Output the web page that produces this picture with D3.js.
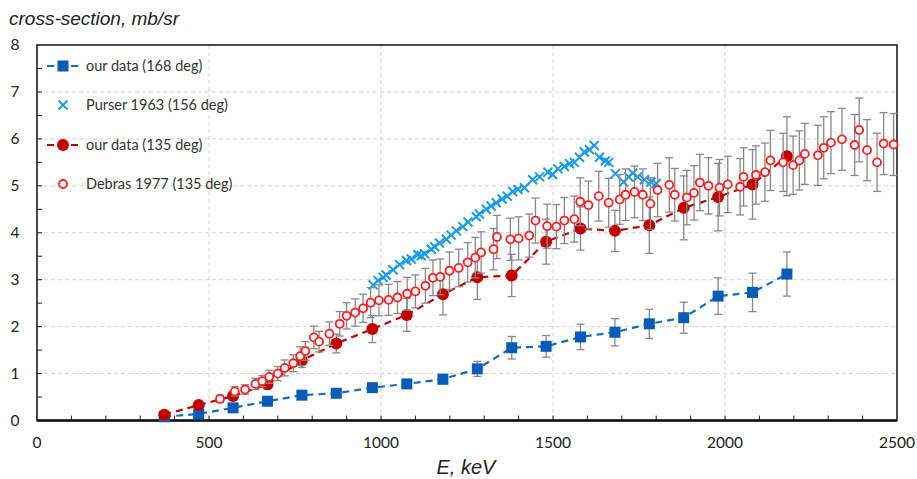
<!DOCTYPE html>
<html>
<head>
<meta charset="utf-8">
<script src="https://cdn.jsdelivr.net/npm/d3@7"></script>
<style>
    body { margin: 0; background: #fff; }
    #main { width: 917px; height: 479px; }
    .tick-label { font-family: Lato, "Open Sans", sans-serif; font-size: 15.5px; fill: #222; }
    .axis-label { font-family: "Liberation Sans", Arial, sans-serif; font-style: italic; fill: #222; }
    .legend-text { font-family: Lato, "Open Sans", sans-serif; font-size: 14.5px; fill: #333; }
</style>
</head>
<body>
<div id="main"></div>
<script>

// our data, 168 deg
const blueE   = [370, 470, 570, 670, 770, 870, 975, 1075, 1180, 1280, 1380, 1480, 1580, 1680, 1780, 1880, 1980, 2080, 2180];
const blueVal = [0.08, 0.14, 0.27, 0.41, 0.54, 0.58, 0.70, 0.78, 0.88, 1.10, 1.55, 1.58, 1.78, 1.88, 2.06, 2.19, 2.65, 2.73, 3.12];
const blueErr = [0.03, 0.03, 0.04, 0.04, 0.05, 0.05, 0.06, 0.06, 0.10, 0.16, 0.24, 0.23, 0.27, 0.29, 0.31, 0.33, 0.39, 0.41, 0.47];

// Purser 1963, 156 deg
const purserE   = [977, 992, 1006, 1015, 1035, 1054, 1074, 1088, 1107, 1117, 1127, 1146, 1156, 1170, 1190, 1204, 1219, 1238, 1253, 1277,
                   1286, 1306, 1320, 1335, 1352, 1367, 1383, 1398, 1417, 1441, 1461, 1485, 1499, 1514, 1533, 1548, 1562, 1577, 1591, 1606,
                   1620, 1635, 1652, 1662, 1681, 1705, 1720, 1732, 1746, 1766, 1785, 1800];
const purserVal = [2.89, 2.98, 3.05, 3.10, 3.21, 3.32, 3.41, 3.44, 3.53, 3.51, 3.55, 3.65, 3.70, 3.78, 3.86, 3.95, 4.04, 4.13, 4.23, 4.34,
                   4.40, 4.50, 4.57, 4.64, 4.72, 4.78, 4.88, 4.92, 4.96, 5.13, 5.19, 5.29, 5.24, 5.36, 5.41, 5.47, 5.50, 5.61, 5.72, 5.77,
                   5.86, 5.61, 5.53, 5.50, 5.26, 5.08, 5.19, 5.27, 5.19, 5.13, 5.08, 5.05];

// our data, 135 deg
const redE   = [370, 470, 570, 670, 770, 870, 975, 1075, 1180, 1280, 1380, 1480, 1580, 1680, 1780, 1880, 1980, 2080, 2180];
const redVal = [0.12, 0.33, 0.52, 0.77, 1.28, 1.64, 1.95, 2.25, 2.69, 3.05, 3.09, 3.81, 4.09, 4.04, 4.16, 4.53, 4.76, 5.03, 5.63];
const redErr = [0.04, 0.06, 0.08, 0.10, 0.15, 0.20, 0.29, 0.35, 0.44, 0.47, 0.45, 0.48, 0.46, 0.44, 0.60, 0.68, 0.72, 0.74, 0.84];

// Debras 1977, 135 deg
const debrasE   = [532, 575, 605, 635, 655, 675, 700, 720, 745, 765, 780, 805, 820, 850, 880, 900, 925, 948, 970, 994,
                   1022, 1048, 1076, 1100, 1129, 1151, 1172, 1199, 1226, 1252, 1274, 1291, 1327, 1337, 1376, 1400, 1431, 1449, 1483, 1510,
                   1533, 1562, 1579, 1603, 1633, 1662, 1694, 1711, 1737, 1761, 1783, 1804, 1838, 1854, 1889, 1910, 1927, 1952, 1984, 2008,
                   2044, 2054, 2090, 2116, 2132, 2169, 2198, 2216, 2232, 2270, 2287, 2308, 2340, 2377, 2390, 2413, 2442, 2461, 2490];
const debrasVal = [0.46, 0.62, 0.66, 0.78, 0.84, 0.93, 1.00, 1.12, 1.22, 1.37, 1.48, 1.77, 1.68, 1.85, 2.06, 2.23, 2.30, 2.39, 2.51, 2.56,
                   2.57, 2.62, 2.70, 2.75, 2.87, 3.04, 3.06, 3.19, 3.25, 3.37, 3.47, 3.58, 3.65, 3.91, 3.86, 3.88, 3.94, 4.26, 4.14, 4.13,
                   4.26, 4.29, 4.66, 4.59, 4.78, 4.64, 4.71, 4.81, 4.87, 4.81, 4.62, 4.91, 5.02, 4.81, 4.75, 4.85, 5.07, 5.00, 4.96, 5.03,
                   4.98, 5.19, 5.23, 5.29, 5.54, 5.50, 5.44, 5.54, 5.68, 5.65, 5.81, 5.92, 5.99, 5.87, 6.19, 5.76, 5.50, 5.90, 5.88];
const debrasErr = [0.08, 0.10, 0.10, 0.12, 0.12, 0.14, 0.15, 0.17, 0.18, 0.20, 0.20, 0.24, 0.22, 0.25, 0.26, 0.28, 0.29, 0.30, 0.32, 0.33,
                   0.33, 0.34, 0.35, 0.35, 0.37, 0.38, 0.38, 0.40, 0.40, 0.42, 0.43, 0.44, 0.44, 0.46, 0.45, 0.46, 0.46, 0.48, 0.47, 0.47,
                   0.49, 0.49, 0.51, 0.51, 0.53, 0.52, 0.53, 0.55, 0.55, 0.55, 0.55, 0.57, 0.58, 0.56, 0.58, 0.58, 0.60, 0.60, 0.60, 0.60,
                   0.60, 0.62, 0.62, 0.62, 0.64, 0.62, 0.62, 0.63, 0.65, 0.64, 0.66, 0.66, 0.66, 0.65, 0.68, 0.65, 0.62, 0.66, 0.66];

const xTicks = [0, 500, 1000, 1500, 2000, 2500];
const yTicks = [0, 1, 2, 3, 4, 5, 6, 7, 8];
const legendLabels = ["our data (168 deg)", "Purser 1963 (156 deg)", "our data (135 deg)", "Debras 1977 (135 deg)"];

const zip = (e, v, err) => e.map((d, i) => ({E: d, v: v[i], err: err ? err[i] : 0}));

class CrossSectionVis{

    constructor(){

        this.margin = {top: 45, right: 20, bottom: 58, left: 37};
        this.width = 917;
        this.height = 479;

        this.svg = d3.select("#main").append("svg")
            .attr("width", this.width)
            .attr("height", this.height);

        this.x = d3.scaleLinear().domain([0, 2500]).range([this.margin.left, this.width - this.margin.right]);
        this.y = d3.scaleLinear().domain([0, 8]).range([this.height - this.margin.bottom - 0.5, this.margin.top]);

        this.update();
    }

    errorBars(data){
        let g = this.svg.append("g");
        let x = this.x, y = this.y;
        data.filter(d => d.err > 0).forEach(d => {
            g.append("line")
                .attr("x1", x(d.E)).attr("x2", x(d.E))
                .attr("y1", y(d.v + d.err)).attr("y2", y(d.v - d.err))
                .attr("stroke", "#888").attr("stroke-width", 1.3);
            [d.v + d.err, d.v - d.err].forEach(v => {
                g.append("line")
                    .attr("x1", x(d.E) - 4).attr("x2", x(d.E) + 4)
                    .attr("y1", y(v)).attr("y2", y(v))
                    .attr("stroke", "#888").attr("stroke-width", 1.3);
            });
        });
    }

    dashedLine(data, color){
        let line = d3.line().x(d => this.x(d.E)).y(d => this.y(d.v));
        this.svg.append("path")
            .datum(data)
            .attr("d", line)
            .attr("fill", "none")
            .attr("stroke", color)
            .attr("stroke-width", 2.2)
            .attr("stroke-dasharray", "7,5");
    }

    square(g, cx, cy){
        g.append("rect")
            .attr("x", cx - 5.5).attr("y", cy - 5.5)
            .attr("width", 11).attr("height", 11)
            .attr("fill", "#0a5bb5");
    }

    cross(g, cx, cy){
        let s = 4.5;
        g.append("path")
            .attr("d", `M${cx - s},${cy - s}L${cx + s},${cy + s}M${cx - s},${cy + s}L${cx + s},${cy - s}`)
            .attr("stroke", "#1b9be3").attr("stroke-width", 2).attr("fill", "none");
    }

    dot(g, cx, cy){
        g.append("circle").attr("cx", cx).attr("cy", cy).attr("r", 6).attr("fill", "#c00000");
    }

    ring(g, cx, cy){
        g.append("circle").attr("cx", cx).attr("cy", cy).attr("r", 4)
            .attr("fill", "#fff").attr("stroke", "#ff1f1f").attr("stroke-width", 1.8);
    }

    update(){

        let x = this.x, y = this.y;
        let left = this.margin.left, right = this.width - this.margin.right;
        let top = this.margin.top, bottom = y(0);

        //grid lines
        let grid = this.svg.append("g");
        yTicks.filter(t => t > 0 && t < 8).forEach(t => {
            grid.append("line")
                .attr("x1", left).attr("x2", right)
                .attr("y1", y(t)).attr("y2", y(t))
                .attr("stroke", "#d4d4d4").attr("stroke-width", 1).attr("stroke-dasharray", "4,3");
        });
        xTicks.filter(t => t > 0 && t < 2500).forEach(t => {
            grid.append("line")
                .attr("x1", x(t)).attr("x2", x(t))
                .attr("y1", top).attr("y2", bottom)
                .attr("stroke", "#d4d4d4").attr("stroke-width", 1).attr("stroke-dasharray", "4,3");
        });

        //minor ticks inside the frame
        let ticks = this.svg.append("g");
        d3.range(100, 2500, 100).forEach(t => {
            ticks.append("line")
                .attr("x1", x(t)).attr("x2", x(t))
                .attr("y1", bottom).attr("y2", bottom - 5)
                .attr("stroke", "#222").attr("stroke-width", 1);
        });
        d3.range(0.5, 8, 0.5).forEach(t => {
            ticks.append("line")
                .attr("x1", left).attr("x2", left + 5)
                .attr("y1", y(t)).attr("y2", y(t))
                .attr("stroke", "#222").attr("stroke-width", 1);
        });

        //frame
        this.svg.append("rect")
            .attr("x", left).attr("y", top)
            .attr("width", right - left).attr("height", bottom - top)
            .attr("fill", "none").attr("stroke", "#111").attr("stroke-width", 1.5);
        this.svg.append("line")
            .attr("x1", left).attr("x2", right)
            .attr("y1", bottom).attr("y2", bottom)
            .attr("stroke", "#111").attr("stroke-width", 2.5);

        //tick labels
        this.svg.append("g").selectAll("text")
            .data(xTicks).enter().append("text")
            .attr("class", "tick-label")
            .attr("x", d => x(d)).attr("y", bottom + 27)
            .attr("text-anchor", "middle")
            .text(d => d);
        this.svg.append("g").selectAll("text")
            .data(yTicks).enter().append("text")
            .attr("class", "tick-label")
            .attr("x", 15).attr("y", d => y(d) + 5)
            .attr("text-anchor", "middle")
            .text(d => d);

        //axis titles
        this.svg.append("text")
            .attr("class", "axis-label")
            .attr("x", 466).attr("y", 474)
            .attr("text-anchor", "middle")
            .style("font-size", "20px")
            .text("E, keV");
        this.svg.append("text")
            .attr("class", "axis-label")
            .attr("x", 9).attr("y", 25)
            .style("font-size", "19px")
            .text("cross-section, mb/sr");

        //series
        let blue = zip(blueE, blueVal, blueErr);
        let purser = zip(purserE, purserVal);
        let red = zip(redE, redVal, redErr);
        let debras = zip(debrasE, debrasVal, debrasErr);

        this.errorBars(blue);
        this.dashedLine(blue, "#0c6cc8");
        let gb = this.svg.append("g");
        blue.forEach(d => this.square(gb, x(d.E), y(d.v)));

        let gp = this.svg.append("g");
        purser.forEach(d => this.cross(gp, x(d.E), y(d.v)));

        this.errorBars(red);
        this.dashedLine(red, "#c00000");
        let gr = this.svg.append("g");
        red.forEach(d => this.dot(gr, x(d.E), y(d.v)));

        this.errorBars(debras);
        let gd = this.svg.append("g");
        debras.forEach(d => this.ring(gd, x(d.E), y(d.v)));

        //legend
        let lg = this.svg.append("g");
        let rows = [66, 105, 145, 184];
        let mx = 63;
        lg.append("line").attr("x1", 47).attr("x2", 82).attr("y1", rows[0]).attr("y2", rows[0])
            .attr("stroke", "#0c6cc8").attr("stroke-width", 2.2).attr("stroke-dasharray", "7,5");
        this.square(lg, mx, rows[0]);
        this.cross(lg, mx, rows[1]);
        lg.append("line").attr("x1", 47).attr("x2", 82).attr("y1", rows[2]).attr("y2", rows[2])
            .attr("stroke", "#c00000").attr("stroke-width", 2.2).attr("stroke-dasharray", "7,5");
        this.dot(lg, mx, rows[2]);
        this.ring(lg, mx, rows[3]);
        legendLabels.forEach((t, i) => {
            lg.append("text")
                .attr("class", "legend-text")
                .attr("x", 86).attr("y", rows[i] + 5)
                .text(t);
        });
    }
}

new CrossSectionVis();

</script>
</body>
</html>
